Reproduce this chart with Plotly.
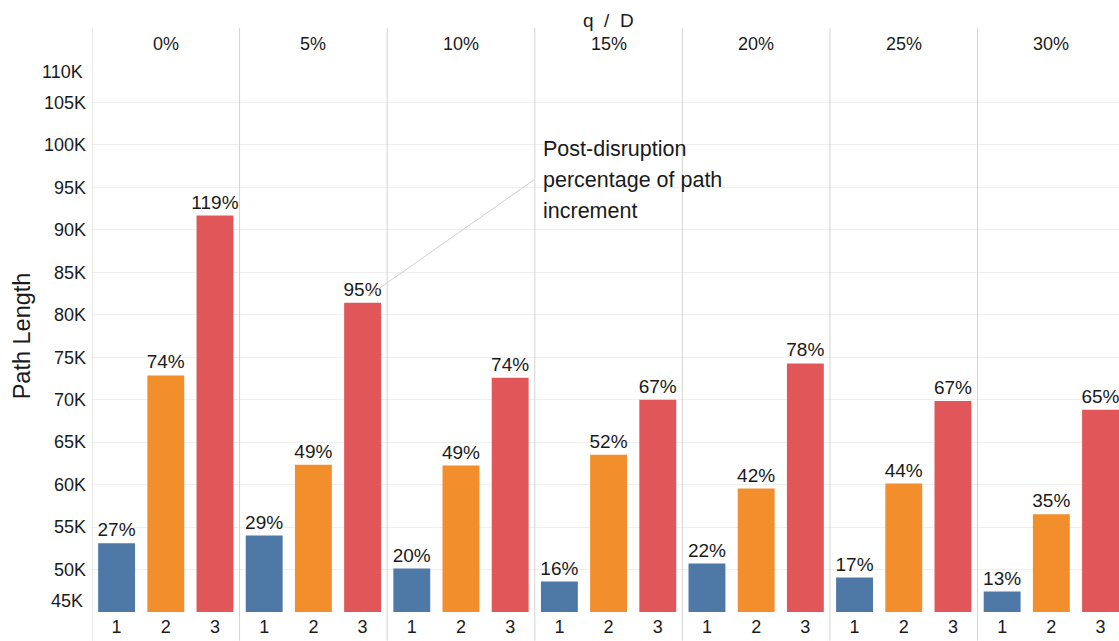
import plotly.graph_objects as go

# q / D levels (one panel each) and the three scenarios inside every panel
q_levels = ["0%", "5%", "10%", "15%", "20%", "25%", "30%"]
scenarios = ["1", "2", "3"]

# Path length per scenario and q / D level
path_s1 = [53090, 54000, 50120, 48590, 50710, 49060, 47410]
path_s2 = [72860, 62350, 62240, 63530, 59530, 60120, 56510]
path_s3 = [91680, 81410, 72590, 70000, 74270, 69860, 68820]

# Post-disruption percentage of path increment
pct_s1 = ["27%", "29%", "20%", "16%", "22%", "17%", "13%"]
pct_s2 = ["74%", "49%", "49%", "52%", "42%", "44%", "35%"]
pct_s3 = ["119%", "95%", "74%", "67%", "78%", "67%", "65%"]

y_ticks = list(range(45000, 110001, 5000))
Y_BASE = 45000

colors = ["#4e79a7", "#f28e2b", "#e15759"]
FONT = "Liberation Sans, Arial, sans-serif"
TXT = "#1a1a1a"
SEP = "#d3d3d3"

n_q = len(q_levels)
n_s = len(scenarios)

fig = go.Figure()
for j, (vals, pcts) in enumerate([(path_s1, pct_s1), (path_s2, pct_s2), (path_s3, pct_s3)]):
    fig.add_trace(go.Bar(
        x=[n_s * i + j for i in range(n_q)],
        y=[v - Y_BASE for v in vals],
        base=Y_BASE,
        text=pcts,
        textposition="outside",
        constraintext="none",
        cliponaxis=False,
        textfont=dict(family=FONT, size=19, color=TXT),
        marker=dict(color=colors[j], line=dict(width=0)),
        width=0.75,
        name=scenarios[j],
        showlegend=False,
    ))

shapes = []
# left axis line and panel separators, running through header and tick rows
for k in range(n_q):
    shapes.append(dict(
        type="line", xref="x", yref="paper",
        x0=n_s * k - 0.5, x1=n_s * k - 0.5, y0=-0.052, y1=1.058,
        line=dict(color=SEP, width=1),
    ))

annotations = []
# panel headers
for i, q in enumerate(q_levels):
    annotations.append(dict(
        x=n_s * i + 1, y=1.029, xref="x", yref="paper",
        text=q, showarrow=False, yanchor="middle",
        font=dict(family=FONT, size=18, color=TXT),
    ))
# shared header title
annotations.append(dict(
    x=(n_s * n_q - 1) / 2, y=1.072, xref="x", yref="paper",
    text="q\u00a0\u00a0/\u00a0\u00a0D", showarrow=False, yanchor="middle",
    font=dict(family=FONT, size=19, color=TXT),
))
# edge tick labels pulled inside the plot height
annotations.append(dict(
    x=0, y=110000, xref="paper", yref="y", text="110K", showarrow=False,
    xanchor="right", yanchor="middle", xshift=-7, yshift=-12,
    font=dict(family=FONT, size=18, color=TXT),
))
annotations.append(dict(
    x=0, y=45000, xref="paper", yref="y", text="45K", showarrow=False,
    xanchor="right", yanchor="middle", xshift=-7, yshift=11,
    font=dict(family=FONT, size=18, color=TXT),
))
# callout pointing at the 95% label
annotations.append(dict(
    x=n_s * 1 + 2, y=path_s3[1], xref="x", yref="y",
    text="", showarrow=True, arrowhead=0, arrowwidth=1, arrowcolor="#cfcfcf",
    ax=167, ay=-117, xshift=6, yshift=7, standoff=0,
))
callout_lines = ["Post-disruption", "percentage of path", "increment"]
for k, line in enumerate(callout_lines):
    annotations.append(dict(
        x=n_s * 1 + 2, y=path_s3[1], xref="x", yref="y",
        text=line, showarrow=False, xanchor="left", yanchor="middle",
        xshift=6 + 167 + 5, yshift=7 + 116 + 31 * (1 - k),
        font=dict(family=FONT, size=21.5, color=TXT),
    ))

fig.update_layout(
    width=1119, height=641,
    margin=dict(l=92, r=0, t=60, b=29),
    paper_bgcolor="white", plot_bgcolor="white",
    shapes=shapes,
    annotations=annotations,
    font=dict(family=FONT, color=TXT),
)
fig.update_xaxes(
    range=[-0.5, 20.375],
    tickvals=list(range(n_q * n_s)),
    ticktext=scenarios * n_q,
    tickfont=dict(family=FONT, size=18, color=TXT),
    ticklabelstandoff=2,
    showgrid=False, zeroline=False, showline=False, ticks="",
    fixedrange=True,
)
fig.update_yaxes(
    range=[45000, 110000],
    tickvals=y_ticks,
    ticktext=["" if v in (45000, 110000) else f"{v // 1000}K" for v in y_ticks],
    tickfont=dict(family=FONT, size=18, color=TXT),
    ticklabelstandoff=5,
    showgrid=True, gridcolor="#efefef", gridwidth=1,
    zeroline=False, showline=False, ticks="",
    title=dict(text="Path Length", font=dict(family=FONT, size=23.5, color=TXT), standoff=6),
)

fig.write_html("out.html")
